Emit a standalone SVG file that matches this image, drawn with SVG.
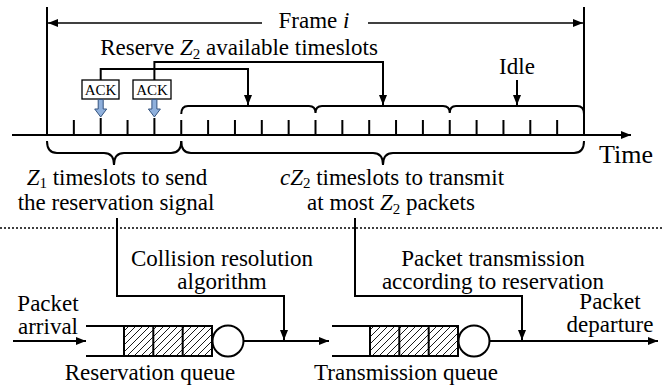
<svg xmlns="http://www.w3.org/2000/svg" width="663" height="386" viewBox="0 0 663 386">
<style>
text{font-family:"Liberation Serif","Times New Roman",Times,"DejaVu Serif",serif;fill:#000}
.t{font-size:23px}
.c{text-anchor:middle}
.m{font-style:italic}
.s{font-size:15px}
.ln{stroke:#000;stroke-width:2;fill:none}
.th{stroke:#000;stroke-width:1.6;fill:none}
.box{fill:#fff;stroke:#000;stroke-width:1.3}
.ack{font-size:15px;text-anchor:middle}
.blue{fill:#8fb0dc;stroke:#34537f;stroke-width:1}
</style>
<defs>
<marker id="ar" markerUnits="userSpaceOnUse" markerWidth="12" markerHeight="10" refX="10" refY="5" orient="auto">
<path d="M0,1 L10,5 L0,9 Z" fill="#000"/>
</marker>
<pattern id="hatch" patternUnits="userSpaceOnUse" width="7" height="7">
<path d="M-1,1 L1,-1 M0,7 L7,0 M6,8 L8,6" stroke="#000" stroke-width="0.9"/>
</pattern>
</defs>

<g id="timeline">
<line class="ln" x1="12" y1="135" x2="631" y2="135" marker-end="url(#ar)"/>
<line class="ln" x1="47" y1="7" x2="47" y2="136"/>
<line class="ln" x1="584" y1="7" x2="584" y2="136"/>
<path class="ln" d="M73.85,120V135 M100.7,118V135 M127.55,120V135 M154.4,118V135 M181.25,120V135 M208.1,120V135 M234.95,120V135 M261.8,120V135 M288.65,120V135 M315.5,120V135 M342.35,120V135 M369.2,120V135 M396.05,120V135 M422.9,120V135 M449.75,120V135 M476.6,120V135 M503.45,120V135 M530.3,120V135 M557.15,120V135"/>
<text x="626" y="163" font-size="26" text-anchor="middle">Time</text>
</g>

<g id="frame">
<line class="th" x1="262" y1="23" x2="48" y2="23" marker-end="url(#ar)"/>
<line class="th" x1="368" y1="23" x2="583" y2="23" marker-end="url(#ar)"/>
<text class="t c" x="314" y="28">Frame <tspan class="m">i</tspan></text>
</g>

<g id="reserve-label">
<text class="t c" x="239" y="55">Reserve <tspan class="m">Z</tspan><tspan class="s" dy="4">2</tspan><tspan dy="-4"> available timeslots</tspan></text>
</g>

<g id="ack1">
<rect class="box" x="82" y="80" width="37" height="19"/>
<text class="ack" x="100.5" y="95">ACK</text>
<path class="blue" d="M98.2,99.5 H103.2 V109 H106.7 L100.7,117 L94.7,109 H98.2 Z"/>
</g>
<g id="ack2">
<rect class="box" x="133" y="80" width="38" height="19"/>
<text class="ack" x="152" y="95">ACK</text>
<path class="blue" d="M151.9,99.5 H156.9 V109 H160.4 L154.4,117 L148.4,109 H151.9 Z"/>
</g>

<g id="idle">
<text class="t c" x="517" y="74">Idle</text>
</g>

<g id="braces">
<path class="ln" d="M181.25,114 Q181.25,106 188,106 L309,106 Q315.5,106 315.5,113 Q315.5,106 322,106 L443,106 Q449.75,106 449.75,113 Q449.75,106 456,106 L577,106 Q584,106 584,114"/>
<path class="ln" d="M47,141 Q47,153 57,153 L104,153 Q114,153 114,165 Q114,153 124,153 L171,153 Q181.25,153 181.25,141"/>
<path class="ln" d="M181.25,141 Q181.25,153 191,153 L373,153 Q383,153 383,165 Q383,153 393,153 L574,153 Q584,153 584,141"/>
</g>

<g id="z1-label">
<text class="t c" x="117" y="185"><tspan class="m">Z</tspan><tspan class="s" dy="3">1</tspan><tspan dy="-3"> timeslots to send</tspan></text>
<text class="t c" x="116" y="210">the reservation signal</text>
</g>
<g id="z2-label">
<text class="t c" x="392" y="185"><tspan class="m">cZ</tspan><tspan class="s" dy="3">2</tspan><tspan dy="-3"> timeslots to transmit</tspan></text>
<text class="t c" x="391" y="210">at most <tspan class="m">Z</tspan><tspan class="s" dy="4">2</tspan><tspan dy="-4"> packets</tspan></text>
</g>

<line x1="0" y1="228" x2="663" y2="228" stroke="#000" stroke-width="1.5" stroke-dasharray="2,2"/>

<g id="connectors">
<path class="ln" d="M100.7,80 V69 H248 V105" marker-end="url(#ar)"/>
<path class="ln" d="M154.4,80 V62 H383 V105" marker-end="url(#ar)"/>
<line class="ln" x1="517" y1="80" x2="517" y2="105" marker-end="url(#ar)"/>
<path class="ln" d="M117,218 V296 H284 V340" marker-end="url(#ar)"/>
<path class="ln" d="M355,218 V296 H522 V340" marker-end="url(#ar)"/>
<line class="ln" x1="13" y1="341" x2="86" y2="341" marker-end="url(#ar)"/>
<line class="ln" x1="243.5" y1="341" x2="329" y2="341" marker-end="url(#ar)"/>
<line class="ln" x1="489.5" y1="341" x2="658" y2="341" marker-end="url(#ar)"/>
</g>

<g id="collision-label">
<text class="t c" x="222" y="266">Collision resolution</text>
<text class="t c" x="222" y="289">algorithm</text>
</g>
<g id="transmission-label">
<text class="t c" x="493" y="266">Packet transmission</text>
<text class="t c" x="493" y="289">according to reservation</text>
</g>

<g id="reservation-queue">
<line class="ln" x1="86" y1="326" x2="212" y2="326"/>
<line class="ln" x1="86" y1="356" x2="212" y2="356"/>
<rect x="124" y="326" width="88" height="30" fill="url(#hatch)" stroke="#000" stroke-width="2"/>
<path class="ln" d="M153.3,326V356 M182.7,326V356"/>
<circle cx="228" cy="341" r="15.5" fill="#fff" stroke="#000" stroke-width="2"/>
<text class="t c" x="150" y="380">Reservation queue</text>
</g>

<g id="transmission-queue">
<line class="ln" x1="332" y1="326" x2="458" y2="326"/>
<line class="ln" x1="332" y1="356" x2="458" y2="356"/>
<rect x="370" y="326" width="88" height="30" fill="url(#hatch)" stroke="#000" stroke-width="2"/>
<path class="ln" d="M399.3,326V356 M428.7,326V356"/>
<circle cx="474" cy="341" r="15.5" fill="#fff" stroke="#000" stroke-width="2"/>
<text class="t c" x="406" y="380">Transmission queue</text>
</g>

<g id="arrival">
<text class="t c" x="48" y="311">Packet</text>
<text class="t c" x="48" y="334">arrival</text>
</g>
<g id="departure">
<text class="t c" x="610" y="309">Packet</text>
<text class="t c" x="610" y="332">departure</text>
</g>
</svg>
